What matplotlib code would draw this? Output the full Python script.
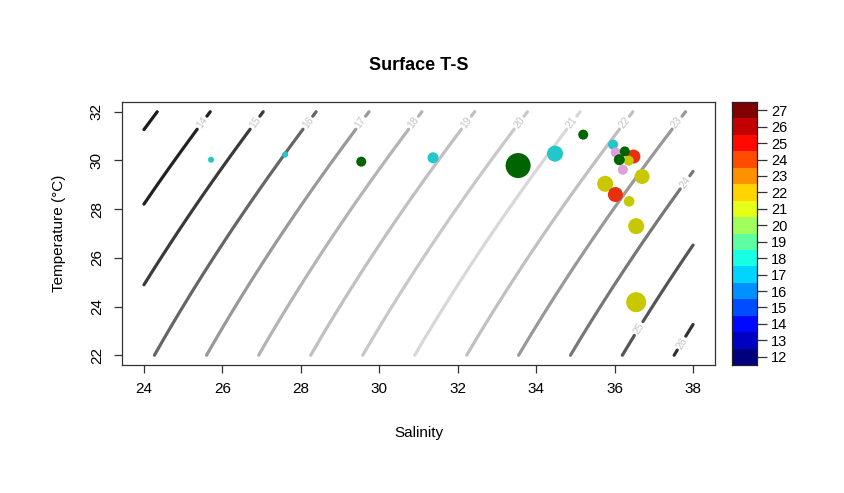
import numpy as np
import matplotlib
matplotlib.use("Agg")
import matplotlib.pyplot as plt
from matplotlib.colors import ListedColormap, LinearSegmentedColormap

plt.rcParams['font.family'] = ['Liberation Sans', 'DejaVu Sans']

# surface samples: salinity, temperature, marker radius (px), colour
sal = [25.71, 27.60, 29.54, 31.37, 33.54, 34.48, 35.20, 35.96, 36.03, 36.48,
       36.26, 36.36, 36.12, 36.21, 35.76, 36.02, 36.70, 36.37, 36.55, 36.55]
temp = [30.03, 30.24, 29.95, 30.11, 29.79, 30.28, 31.06, 30.65, 30.33, 30.16,
        30.37, 29.99, 30.03, 29.62, 29.04, 28.60, 29.34, 28.32, 27.30, 24.18]
rad = [3, 3, 5, 5.5, 12.5, 8, 5, 5, 5, 7,
       5, 5, 5.5, 5, 8, 7.5, 7.5, 5.3, 8, 10]
pcol = ['#22c7c9', '#22c7c9', '#006400', '#22c7c9', '#006400', '#22c7c9', '#006400',
        '#22c7c9', '#dda0dd', '#e8300f', '#006400', '#c8c800', '#006400', '#dda0dd',
        '#c8c800', '#e8300f', '#c8c800', '#c8c800', '#c8c800', '#c8c800']

# sigma-t isopycnals and their grey shades
levels = [13, 14, 15, 16, 17, 18, 19, 20, 21, 22, 23, 24, 25, 26]
level_cols = ['#1a1a1a', '#222222', '#3a3a3a', '#666666', '#999999', '#b4b4b4', '#c0c0c0',
              '#c8c8c8', '#d8d8d8', '#c0c0c0', '#999999', '#777777', '#555555', '#333333']
# label positions given as temperature on each isopycnal
label_levels = [14, 15, 16, 17, 18, 19, 20, 21, 22, 23, 24, 25, 26]
label_temp = [31.55] * 10 + [29.1, 23.1, 22.5]

# colour key
key_ticks = list(range(12, 28))
jet_anchors = ["#00007F", "blue", "#007FFF", "cyan", "#7FFF7F", "yellow", "#FF7F00", "red", "#7F0000"]


def sigma_t(S, T):
    # UNESCO 1983 density at p = 0, minus 1000; salinity taken as absolute -> practical
    S = S * 35.0 / 35.16504
    rw = (999.842594 + 6.793952e-2 * T - 9.095290e-3 * T**2 + 1.001685e-4 * T**3
          - 1.120083e-6 * T**4 + 6.536332e-9 * T**5)
    A = 8.24493e-1 - 4.0899e-3 * T + 7.6438e-5 * T**2 - 8.2467e-7 * T**3 + 5.3875e-9 * T**4
    B = -5.72466e-3 + 1.0227e-4 * T - 1.6546e-6 * T**2
    C = 4.8314e-4
    return rw + A * S + B * S**1.5 + C * S**2 - 1000.0


fig = plt.figure(figsize=(8.45, 4.93), dpi=100)
ax = fig.add_axes([122 / 845, 1 - 365 / 493, 593 / 845, 263 / 493])

sg = np.linspace(24, 38, 300)
tg = np.linspace(22, 32, 300)
SS, TT = np.meshgrid(sg, tg)
sig = sigma_t(SS, TT)

cs = ax.contour(SS, TT, sig, levels=levels, colors=level_cols, linewidths=2.3)
cs.set_capstyle('round')

pos = []
for lv, t in zip(label_levels, label_temp):
    s = np.interp(lv, sigma_t(sg, t), sg)
    pos.append((s, t))
lab = ax.clabel(cs, manual=pos, fontsize=7.5, inline=True,
                inline_spacing=3, fmt='%d')
for t in lab:
    t.set_color('#c4c4c4')

for s, t, r, c in zip(sal, temp, rad, pcol):
    ax.scatter(s, t, s=(2 * r * 0.72) ** 2, color=c, edgecolors='none', zorder=3)

ax.set_xlim(23.44, 38.56)
ax.set_ylim(21.6, 32.4)
ax.set_xticks([24, 26, 28, 30, 32, 34, 36, 38])
ax.set_yticks([22, 24, 26, 28, 30, 32])
for lbl in ax.get_yticklabels():
    lbl.set_rotation(90)
    lbl.set_va('center')
ax.tick_params(labelsize=11, length=6, width=0.9, color='#333333', pad=6)
ax.tick_params(axis='y', pad=7)
for sp in ax.spines.values():
    sp.set_color('#333333')
    sp.set_linewidth(0.9)
ax.set_xlabel('Salinity', fontsize=11, labelpad=22)
ax.set_ylabel('Temperature (°C)', fontsize=11, labelpad=17)
ax.set_title('Surface T-S', fontsize=13, fontweight='bold', pad=23)

# colour key on the right
cax = fig.add_axes([732 / 845, 1 - 365 / 493, 25 / 845, 263 / 493])
jet = LinearSegmentedColormap.from_list('rjet', jet_anchors)
key_cols = [jet(i / (len(key_ticks) - 1)) for i in range(len(key_ticks))]
cax.pcolormesh([0, 1], np.arange(key_ticks[0] - 0.5, key_ticks[-1] + 1.0),
               np.arange(len(key_ticks)).reshape(-1, 1), cmap=ListedColormap(key_cols),
               shading='flat')
cax.set_xlim(0, 1)
cax.set_ylim(key_ticks[0] - 0.5, key_ticks[-1] + 0.5)
cax.set_xticks([])
cax.set_yticks(key_ticks)
cax.yaxis.tick_right()
cax.tick_params(axis='y', labelsize=10.5, length=7, width=0.9, color='#333333', pad=3)
for sp in cax.spines.values():
    sp.set_color('#222222')
    sp.set_linewidth(0.9)

fig.savefig('out.png', dpi=100)
